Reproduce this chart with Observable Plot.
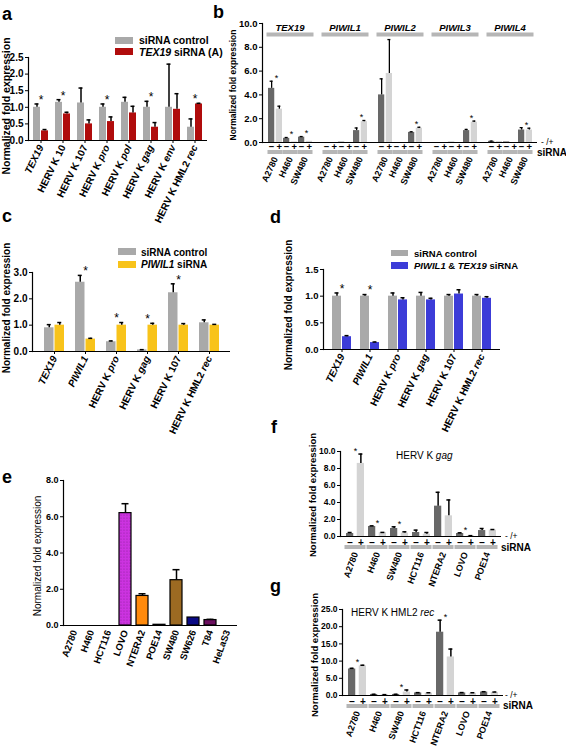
<!DOCTYPE html>
<html><head><meta charset="utf-8">
<script src="https://cdn.jsdelivr.net/npm/d3@7"></script>
<script src="https://cdn.jsdelivr.net/npm/@observablehq/plot@0.6"></script>
<style>
body{margin:0;background:#fff;}
#fig{position:relative;width:566px;height:748px;overflow:hidden;font-family:"Liberation Sans",Arial,sans-serif;background:#fff;}
#fig > .panel{position:absolute;}
#overlay{position:absolute;left:0;top:0;pointer-events:none;}
</style></head><body>
<svg width="0" height="0" style="position:absolute"><defs>
<pattern id="lovoDots" width="3" height="3" patternUnits="userSpaceOnUse"><rect width="3" height="3" fill="#cc33e0"/><circle cx="1" cy="1" r="0.6" fill="#8e1f9e"/></pattern>
</defs></svg>
<div id="fig"></div>
<script>
// ---------- DATA ----------
// panel a
const aGenes = ["TEX19","HERV K 10","HERV K 107","HERV K pro","HERV K pol","HERV K gag","HERV K env","HERV K HML2 rec"];
const aCtrl    = [1.0, 1.15, 1.13, 1.0, 1.15, 1.0, 1.0, 0.4];
const aCtrlErr = [0.1, 0.08, 0.45, 0.1, 0.15, 0.18, 1.3, 0.25];
const aSi      = [0.29, 0.8, 0.5, 0.57, 0.83, 0.4, 0.94, 1.1];
const aSiErr   = [0.04, 0.05, 0.12, 0.14, 0.2, 0.14, 0.47, 0.02];
const aSig     = [1, 1, 0, 1, 0, 1, 0, 1];
// panel b
const bGenes = ["TEX19","PIWIL1","PIWIL2","PIWIL3","PIWIL4"];
const bCells = ["A2780","H460","SW480"];
const bNeg    = [[4.55,0.35,0.45],[0,0.03,1.0],[4.0,0,0.85],[0,0.02,1.0],[0.1,0.05,1.05]];
const bNegErr = [[0.6,0.07,0.05],[0,0,0.22],[1.35,0,0.05],[0,0,0.1],[0.02,0,0.2]];
const bPos    = [[2.8,0.05,0.1],[0,0.01,1.75],[5.8,0,1.2],[0,0,1.7],[0.08,0,1.05]];
const bPosErr = [[0.25,0,0],[0,0,0.1],[2.85,0,0.08],[0,0,0.1],[0,0,0.15]];
const bSig    = [[1,1,1],[0,0,1],[0,0,1],[0,0,1],[0,0,1]];
// panel c
const cGenes = ["TEX19","PIWIL1","HERV K pro","HERV K gag","HERV K 107","HERV K HML2 rec"];
const cCtrl    = [0.9, 2.63, 0.37, 0.06, 2.23, 1.09];
const cCtrlErr = [0.12, 0.26, 0.03, 0.01, 0.34, 0.11];
const cSi      = [1.0, 0.47, 1.0, 1.0, 1.0, 1.0];
const cSiErr   = [0.1, 0.03, 0.1, 0.07, 0.06, 0.03];
const cSig     = [0, 1, 1, 1, 1, 0];
// panel d
const dGenes = ["TEX19","PIWIL1","HERV K pro","HERV K gag","HERV K 107","HERV K HML2 rec"];
const dCtrl    = [1.0, 1.0, 1.0, 1.0, 1.0, 1.0];
const dCtrlErr = [0.06, 0.03, 0.06, 0.07, 0.03, 0.03];
const dSi      = [0.24, 0.13, 0.93, 0.93, 1.04, 0.96];
const dSiErr   = [0.02, 0.01, 0.04, 0.03, 0.08, 0.03];
const dSig     = [1, 1, 0, 0, 0, 0];
// panel e
const eCells  = ["A2780","H460","HCT116","LOVO","NTERA2","POE14","SW480","SW626","T84","HeLaS3"];
const eVals   = [0, 0, 0, 6.2, 1.63, 0.04, 2.5, 0.44, 0.3, 0];
const eErr    = [0, 0, 0, 0.52, 0.12, 0, 0.58, 0, 0.04, 0];
const eColors = ["#888888","#888888","#888888","url(#lovoDots)","#ff8a0c","#cfcfcf","#9c6a22","#0a0a85","#6c1060","#888888"];
// panels f, g
const fgCells = ["A2780","H460","SW480","HCT116","NTERA2","LOVO","POE14"];
const fNeg    = [0.35, 1.18, 0.94, 0.47, 3.57, 0.35, 0.7];
const fNegErr = [0.12, 0.07, 0.2, 0.28, 1.63, 0.08, 0.24];
const fPos    = [8.6, 0.45, 0.4, 0.27, 2.43, 0.08, 0.75];
const fPosErr = [1.1, 0.03, 0.15, 0.2, 1.87, 0.02, 0.07];
const fSig    = [1, 1, 1, 0, 0, 1, 0];
const gNeg    = [7.7, 0.3, 0.3, 0.75, 18.4, 0.75, 1.0];
const gNegErr = [0.2, 0.05, 0.05, 0.08, 3.5, 0.1, 0.1];
const gPos    = [8.6, 0.2, 1.0, 0.7, 11.2, 0.65, 0.9];
const gPosErr = [0.2, 0.05, 0.6, 0.1, 2.3, 0.15, 0.1];
const gSig    = [1, 0, 1, 0, 1, 0, 0];

// ---------- STYLE ----------
const FONT = "'Liberation Sans', Arial, sans-serif";
const GRAY = "#a9a9a9", RED = "#b00c0c", YELLOW = "#f8c31a", BLUE = "#3c3cd8";
const DARK = "#686868", LIGHT = "#d4d4d4", BARGRAY = "#b6b6b6";
const ST = {fontFamily: FONT, background: "transparent", overflow: "visible"};
const NS = "http://www.w3.org/2000/svg";
const fig = document.getElementById("fig");
const f1 = d3.format(".1f");

function place(node, left, top, w, h){
  const div = document.createElement("div");
  div.className = "panel";
  div.style.left = left + "px"; div.style.top = top + "px";
  div.style.width = w + "px"; div.style.height = h + "px";
  div.appendChild(node); fig.appendChild(div);
}
const ITAL_FULL = new Set(["TEX19","PIWIL1"]);
const ITAL_LAST = new Set(["pro","pol","gag","env","rec"]);
function italicize(svg){
  svg.querySelectorAll('g[aria-label="x-axis tick label"] text').forEach(t => {
    const s = t.textContent, w = s.split(" "), last = w[w.length-1];
    let parts;
    if (ITAL_FULL.has(s)) parts = [[s, true]];
    else if (w.length > 1 && ITAL_LAST.has(last)) parts = [[w.slice(0,-1).join(" ") + " ", false], [last, true]];
    else return;
    t.textContent = "";
    parts.forEach(([txt, it]) => {
      const ts = document.createElementNS(NS, "tspan");
      ts.textContent = txt;
      if (it) ts.setAttribute("font-style", "italic");
      t.appendChild(ts);
    });
  });
  return svg;
}

// ---------- grouped pair panel ----------
function pairPanel(o){
  const rows = o.cats.map((c,i) => ({cat:c, v1:o.v1[i], e1:o.e1[i], v2:o.v2[i], e2:o.e2[i], sig:o.sig[i]}));
  const fh = o.height - o.mt - o.mb;
  const build = (bw) => {
    const sub = (bw - o.gap)/2, off = (sub + o.gap)/2, cap = o.cap;
    const marks = [];
    if (o.signs) {
      marks.push(Plot.cell(o.cats, {x: d => d, fill: BARGRAY, insetTop: fh + o.pairTop, insetBottom: -o.pairBottom, insetLeft: -1.5, insetRight: -1.5}));
      marks.push(Plot.text(o.cats, {x: d => d, text: () => "\u2212", frameAnchor: "bottom", lineAnchor: "middle", dy: o.signDy, dx: -off, fontSize: 10, fontWeight: "bold", fill: "black"}));
      marks.push(Plot.text(o.cats, {x: d => d, text: () => "+", frameAnchor: "bottom", lineAnchor: "middle", dy: o.signDy, dx: off, fontSize: 10, fontWeight: "bold", fill: "black"}));
    }
    marks.push(
      Plot.barY(rows, {x: "cat", y: "v1", fill: o.c1, insetLeft: 0, insetRight: sub + o.gap}),
      Plot.barY(rows, {x: "cat", y: "v2", fill: o.c2, insetRight: 0, insetLeft: sub + o.gap}),
      Plot.ruleX(rows, {x: "cat", y1: "v1", y2: d => d.v1 + d.e1, dx: -off, strokeWidth: o.ew}),
      Plot.ruleX(rows, {x: "cat", y1: "v2", y2: d => d.v2 + d.e2, dx: off, strokeWidth: o.ew}),
      Plot.tickY(rows, {x: "cat", y: d => d.v1 + d.e1, insetLeft: bw/2 - off - cap/2, insetRight: bw/2 + off - cap/2, strokeWidth: o.ew}),
      Plot.tickY(rows, {x: "cat", y: d => d.v2 + d.e2, insetLeft: bw/2 + off - cap/2, insetRight: bw/2 - off - cap/2, strokeWidth: o.ew}),
      Plot.text(rows.filter(d => d.sig), {x: "cat", y: d => Math.max(d.v1 + d.e1, d.v2 + d.e2), text: () => "*", dy: o.starDy, fontSize: o.starSize}),
      Plot.ruleY([0], {strokeWidth: 1.2}),
      Plot.frame({anchor: "left", strokeWidth: 1.2}),
      Plot.axisY({ticks: o.yticks, tickFormat: f1, tickSize: 3, tickPadding: 2, fontSize: o.yfs, fontWeight: "bold", label: null}),
      Plot.axisX({tickRotate: o.rot, tickSize: o.xTick, tickPadding: o.xPad, fontSize: o.xfs, fontWeight: "bold", label: null})
    );
    return Plot.plot({
      width: o.width, height: o.height,
      marginLeft: o.ml, marginRight: o.mr, marginTop: o.mt, marginBottom: o.mb,
      x: {domain: o.cats, paddingInner: o.pi, paddingOuter: o.po},
      y: {domain: o.ydom},
      style: ST, marks
    });
  };
  const bw = build(10).scale("x").bandwidth;
  return italicize(build(bw));
}

// ---------- panel a ----------
place(pairPanel({cats: aGenes, v1: aCtrl, e1: aCtrlErr, v2: aSi, e2: aSiErr, sig: aSig, c1: GRAY, c2: RED,
  width: 210, height: 215, ml: 28, mr: 3, mt: 57, mb: 75, ydom: [0, 2.5], yticks: [0, 0.5, 1, 1.5, 2, 2.5],
  pi: 0.33, po: 0.2, gap: 1, cap: 4, ew: 1.5, starDy: -4, starSize: 12, yfs: 10, rot: -64, xTick: 3, xPad: 2, xfs: 10}),
  0, 0, 210, 215);

// ---------- panel c ----------
place(pairPanel({cats: cGenes, v1: cCtrl, e1: cCtrlErr, v2: cSi, e2: cSiErr, sig: cSig, c1: GRAY, c2: YELLOW,
  width: 240, height: 200, ml: 32, mr: 10, mt: 32, mb: 89, ydom: [0, 3], yticks: [0, 1, 2, 3],
  pi: 0.37, po: 0.28, gap: 1, cap: 4, ew: 1.5, starDy: -4, starSize: 12, yfs: 10, rot: -64, xTick: 3, xPad: 2, xfs: 10}),
  0, 240, 240, 200);

// ---------- panel d ----------
place(pairPanel({cats: dGenes, v1: dCtrl, e1: dCtrlErr, v2: dSi, e2: dSiErr, sig: dSig, c1: GRAY, c2: BLUE,
  width: 283, height: 200, ml: 40, mr: 66, mt: 29, mb: 91, ydom: [0, 1.5], yticks: [0, 0.5, 1, 1.5],
  pi: 0.31, po: 0.24, gap: 1, cap: 4, ew: 1.5, starDy: -4, starSize: 12, yfs: 9.5, rot: -64, xTick: 3, xPad: 2, xfs: 10}),
  283, 240, 283, 200);

// ---------- panel f ----------
place(pairPanel({cats: fgCells, v1: fNeg, e1: fNegErr, v2: fPos, e2: fPosErr, sig: fSig, c1: DARK, c2: LIGHT,
  width: 283, height: 150, ml: 57, mr: 65, mt: 11, mb: 54, ydom: [0, 10], yticks: [0, 2, 4, 6, 8, 10],
  pi: 0.2, po: 0.18, gap: 3.5, cap: 4, ew: 1.5, starDy: -3, starSize: 9, yfs: 8.5, rot: -70, xTick: 0, xPad: 16, xfs: 9,
  signs: true, signDy: 6, pairTop: 9, pairBottom: 13}),
  283, 440, 283, 150);

// ---------- panel g ----------
place(pairPanel({cats: fgCells, v1: gNeg, e1: gNegErr, v2: gPos, e2: gPosErr, sig: gSig, c1: DARK, c2: LIGHT,
  width: 283, height: 153, ml: 59, mr: 63, mt: 14, mb: 53, ydom: [0, 25], yticks: [0, 5, 10, 15, 20, 25],
  pi: 0.2, po: 0.18, gap: 3.5, cap: 4, ew: 1.5, starDy: -3, starSize: 9, yfs: 8.5, rot: -70, xTick: 0, xPad: 16, xfs: 9,
  signs: true, signDy: 6, pairTop: 9, pairBottom: 13}),
  283, 595, 283, 153);

// ---------- panel b ----------
(function(){
  const rows = [];
  bGenes.forEach((g, gi) => bCells.forEach((c, ci) => rows.push({gene: g, cell: c,
    v1: bNeg[gi][ci], e1: bNegErr[gi][ci], v2: bPos[gi][ci], e2: bPosErr[gi][ci], sig: bSig[gi][ci]})));
  const W = 376, H = 195, ml = 71, mr = 29, mt = 23, mb = 53, fh = H - mt - mb;
  const build = (bw) => {
    const gap = 1.5, sub = (bw - gap)/2, off = (sub + gap)/2, cap = 3;
    return Plot.plot({
      width: W, height: H, marginLeft: ml, marginRight: mr, marginTop: mt, marginBottom: mb,
      fx: {domain: bGenes, paddingInner: 0, paddingOuter: 0, axis: null},
      x: {domain: bCells, paddingInner: 0.08, paddingOuter: 0.265},
      y: {domain: [0, 10]},
      style: ST,
      marks: [
        Plot.frame({fill: BARGRAY, stroke: null, insetTop: 9, insetBottom: fh - 13, insetLeft: 4, insetRight: 4}),
        Plot.text(bGenes, {fx: d => d, text: d => d, frameAnchor: "top", dy: 1, fontSize: 9.5, fontWeight: "bold", fontStyle: "italic"}),
        Plot.cell(rows, {fx: "gene", x: "cell", fill: BARGRAY, insetTop: fh + 8, insetBottom: -12, insetLeft: -0.5, insetRight: -0.5}),
        Plot.text(rows, {fx: "gene", x: "cell", text: () => "\u2212", frameAnchor: "bottom", lineAnchor: "middle", dy: 4.5, dx: -off, fontSize: 9.5, fontWeight: "bold", fill: "black"}),
        Plot.text(rows, {fx: "gene", x: "cell", text: () => "+", frameAnchor: "bottom", lineAnchor: "middle", dy: 4.5, dx: off, fontSize: 9.5, fontWeight: "bold", fill: "black"}),
        Plot.barY(rows, {fx: "gene", x: "cell", y: "v1", fill: DARK, insetLeft: 0, insetRight: sub + gap}),
        Plot.barY(rows, {fx: "gene", x: "cell", y: "v2", fill: LIGHT, insetRight: 0, insetLeft: sub + gap}),
        Plot.ruleX(rows, {fx: "gene", x: "cell", y1: "v1", y2: d => d.v1 + d.e1, dx: -off, strokeWidth: 1.3}),
        Plot.ruleX(rows, {fx: "gene", x: "cell", y1: "v2", y2: d => d.v2 + d.e2, dx: off, strokeWidth: 1.3}),
        Plot.tickY(rows.filter(d => d.e1 > 0), {fx: "gene", x: "cell", y: d => d.v1 + d.e1, insetLeft: bw/2 - off - cap/2, insetRight: bw/2 + off - cap/2, strokeWidth: 1.3}),
        Plot.tickY(rows.filter(d => d.e2 > 0), {fx: "gene", x: "cell", y: d => d.v2 + d.e2, insetLeft: bw/2 + off - cap/2, insetRight: bw/2 - off - cap/2, strokeWidth: 1.3}),
        Plot.text(rows.filter(d => d.sig), {fx: "gene", x: "cell", y: d => Math.max(d.v1 + d.e1, d.v2 + d.e2), text: () => "*", dy: -3, dx: 1, fontSize: 9}),
        Plot.ruleY([0], {strokeWidth: 1.2}),
        Plot.frame({anchor: "left", facet: "super", strokeWidth: 1.2}),
        Plot.axisY({ticks: [0, 2, 4, 6, 8, 10], tickFormat: f1, tickSize: 3, tickPadding: 2, fontSize: 9.5, fontWeight: "bold", label: null}),
        Plot.axisX({tickRotate: -65, tickSize: 0, tickPadding: 15, fontSize: 9, fontWeight: "bold", label: null})
      ]
    });
  };
  const bw = build(10).scale("x").bandwidth;
  place(build(bw), 190, 0, W, H);
})();

// ---------- panel e ----------
(function(){
  const rows = eCells.map((c, i) => ({cell: c, v: eVals[i], e: eErr[i], col: eColors[i]}));
  const build = (bw) => Plot.plot({
    width: 250, height: 230, marginLeft: 63, marginRight: 13, marginTop: 20, marginBottom: 65,
    x: {domain: eCells, paddingInner: 0.3, paddingOuter: 0.2},
    y: {domain: [0, 8]},
    color: {type: "identity"},
    style: ST,
    marks: [
      Plot.barY(rows, {x: "cell", y: "v", fill: "col", stroke: "black", strokeWidth: 1.2}),
      Plot.ruleX(rows.filter(d => d.e > 0), {x: "cell", y1: "v", y2: d => d.v + d.e, strokeWidth: 1.5}),
      Plot.tickY(rows.filter(d => d.e > 0), {x: "cell", y: d => d.v + d.e, insetLeft: bw/2 - 3.5, insetRight: bw/2 - 3.5, strokeWidth: 1.5}),
      Plot.ruleY([0], {strokeWidth: 1.2}),
      Plot.frame({anchor: "left", strokeWidth: 1.2}),
      Plot.axisY({ticks: [0, 2, 4, 6, 8], tickFormat: f1, tickSize: 3, tickPadding: 2, fontSize: 9, fontWeight: "bold", label: null}),
      Plot.axisX({tickRotate: -70, tickSize: 0, tickPadding: 5, fontSize: 9.5, fontWeight: "bold", label: null})
    ]
  });
  const bw = build(10).scale("x").bandwidth;
  place(build(bw), 0, 460, 250, 230);
})();

// ---------- overlay text ----------
const ov = d3.select(fig).append("svg").attr("id", "overlay").attr("width", 566).attr("height", 748)
  .attr("font-family", FONT);
function txt(x, y, parts, size, weight, opts = {}){
  const t = ov.append("text").attr("x", x).attr("y", y).attr("font-size", size).attr("font-weight", weight || "normal");
  if (opts.rotate) t.attr("transform", `rotate(${opts.rotate},${x},${y})`);
  if (opts.anchor) t.attr("text-anchor", opts.anchor);
  (Array.isArray(parts) ? parts : [[parts, false]]).forEach(([s, it]) => {
    const ts = t.append("tspan").text(s); if (it) ts.attr("font-style", "italic");
  });
}
// panel letters
[["a",2,20],["b",213,18],["c",2,222],["d",270,223],["e",2,483],["f",271,433],["g",270,592]]
  .forEach(([l, x, y]) => txt(x, y, l, 18, "bold"));
// y titles
const YT = "Normalized fold expression";
txt(10, 106, YT, 10.5, "bold", {rotate: -90, anchor: "middle"});
txt(236, 85, YT, 8.5, "bold", {rotate: -90, anchor: "middle"});
txt(10, 308, YT, 10, "bold", {rotate: -90, anchor: "middle"});
txt(292, 305, YT, 10, "bold", {rotate: -90, anchor: "middle"});
txt(41, 556, YT, 10, "normal", {rotate: -90, anchor: "middle"});
txt(316, 495, YT, 9.5, "bold", {rotate: -90, anchor: "middle"});
txt(318, 655, YT, 9.5, "bold", {rotate: -90, anchor: "middle"});
// legends
function sw(x, y, w, h, c){ ov.append("rect").attr("x", x).attr("y", y).attr("width", w).attr("height", h).attr("fill", c); }
sw(115, 37, 18, 7, GRAY); sw(115, 48, 18, 7, RED);
txt(139, 44, "siRNA control", 10.5, "bold");
txt(139, 55.5, [["TEX19", true], [" siRNA (A)", false]], 10.5, "bold");
sw(118, 248, 18, 7, GRAY); sw(118, 261, 18, 7, YELLOW);
txt(141, 255.5, "siRNA control", 10, "bold");
txt(141, 268, [["PIWIL1", true], [" siRNA", false]], 10, "bold");
sw(391, 250, 17, 6, GRAY); sw(391, 262, 17, 7, BLUE);
txt(414, 256.5, "siRNA control", 9.5, "bold");
txt(414, 268.5, [["PIWIL1", true], [" & ", false], ["TEX19", true], [" siRNA", false]], 9.5, "bold");
// -/+ and siRNA
txt(541, 145, "- /+", 8.5, "normal"); txt(537, 156, "siRNA", 10, "bold");
txt(505, 539, "- /+", 8.5, "normal"); txt(501, 551, "siRNA", 10, "bold");
txt(505, 698, "- /+", 8.5, "normal"); txt(503, 709, "siRNA", 10, "bold");
// f, g titles
txt(396, 459, [["HERV K ", false], ["gag", true]], 10, "normal");
txt(351, 616, [["HERV K HML2 ", false], ["rec", true]], 10, "normal");
</script></body></html>
